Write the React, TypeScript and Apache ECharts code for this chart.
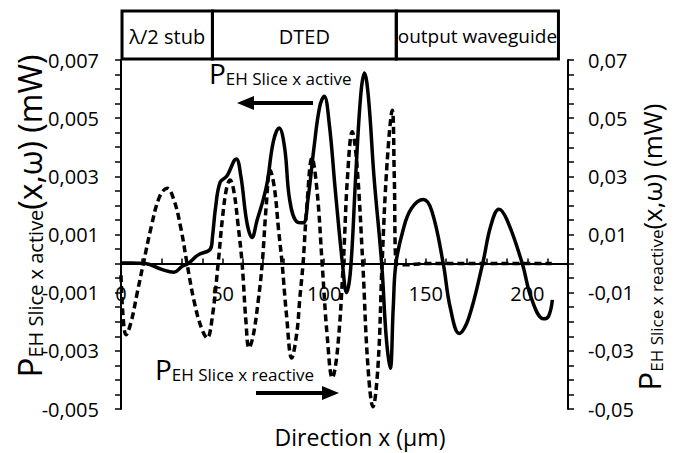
import React, { useEffect, useRef } from 'react';
import * as echarts from 'echarts';

// Direction x (µm) and P_EH Slice x active (mW) — solid curve, left axis
const activeX = [0, 5, 12, 20, 26, 30, 33, 38, 44, 45, 46.5, 48.8, 52, 56.7, 59, 62, 64.5, 67, 70, 72, 75, 77.8, 80.5, 83, 86.5, 89.7, 92, 95, 97.8, 100, 102.5, 105.5, 109, 111, 113, 115.5, 118, 119.8, 121.8, 124.5, 128.3, 130.5, 132.5, 134, 135.3, 139, 143, 148.8, 153, 158.6, 162, 166.5, 171, 178, 182, 186, 190, 197.5, 202, 208, 210.5, 212.3];
const activeY = [0.00002, 0.00002, 0, -0.0002, -0.0003, -0.0001, 0, 0.0003, 0.0005, 0.0009, 0.0019, 0.0028, 0.003, 0.0036, 0.003, 0.0014, 0.0009, 0.0015, 0.0022, 0.0028, 0.0042, 0.00466, 0.004, 0.0022, 0.00144, 0.0014, 0.0022, 0.004, 0.0054, 0.00575, 0.0048, 0.0025, 0, -0.001, -0.0002, 0.003, 0.0058, 0.00655, 0.0057, 0.003, 0, -0.0025, -0.0036, -0.0015, 0, 0.0012, 0.0019, 0.0022, 0.0018, 0, -0.0015, -0.0024, -0.0019, 0, 0.0013, 0.00187, 0.0015, 0, -0.0012, -0.0019, -0.0018, -0.00125];

// P_EH Slice x reactive (mW) — dashed curve, right axis
const reactiveX = [0, 1, 2.5, 5, 8, 11, 15, 19, 22.7, 26, 29.5, 32.5, 36, 39.5, 42.4, 45, 47.8, 50, 52, 53.7, 55.5, 57.5, 59.6, 61.5, 63, 65, 67.5, 69.5, 71.5, 73.4, 75.5, 77.5, 79.3, 81.5, 84, 86.5, 88, 89.6, 91.5, 94, 96.5, 99, 101.5, 104, 106.5, 109.4, 111.5, 113.8, 116, 119, 121.5, 124, 126.5, 128.5, 131, 133.5, 134.5, 135.5, 140, 150, 160, 170, 180, 190, 200, 212];
const reactiveY = [-0.004, -0.018, -0.0245, -0.02, -0.01, 0, 0.013, 0.023, 0.0259, 0.022, 0.012, 0, -0.013, -0.022, -0.0256, -0.018, 0, 0.016, 0.026, 0.0287, 0.025, 0.014, 0, -0.02, -0.029, -0.025, -0.013, 0, 0.02, 0.0321, 0.026, 0.012, 0, -0.018, -0.0325, -0.024, -0.012, 0, 0.02, 0.0363, 0.025, 0, -0.025, -0.0393, -0.03, 0, 0.03, 0.0453, 0.035, 0, -0.035, -0.0492, -0.035, 0, 0.035, 0.0527, 0.03, 0, -0.0004, 0, 0, 0, 0, 0, 0, 0];

const xTickLabels = [0, 50, 100, 150, 200];
const sectionNames = ['λ/2 stub', 'DTED', 'output waveguide'];
const sectionBounds = [0.5, 45, 135.5, 215.3];

const FONT = "'Open Sans', sans-serif";
const Y_MIN = -0.005, Y_MAX = 0.007;
const GRID = { left: 121, top: 60, width: 447, height: 349 };

export default function App() {
  const ref = useRef<HTMLDivElement>(null);
  useEffect(() => {
    if (!ref.current) return;
    const chart = echarts.init(ref.current, null, { renderer: 'svg' });
    // move the x axis up to the zero line of the left axis
    const zeroOffset = -GRID.height * (0 - Y_MIN) / (Y_MAX - Y_MIN);
    const option: any = {
      animation: false,
      backgroundColor: '#fff',
      grid: { ...GRID, containLabel: false },
      xAxis: {
        type: 'value', min: 0, max: 220, interval: 10, position: 'bottom', offset: zeroOffset,
        axisLine: { onZero: false, lineStyle: { color: '#000', width: 2 } },
        axisTick: { show: true, inside: true, length: 5, lineStyle: { color: '#000', width: 1.5 } },
        axisLabel: {
          margin: 20, color: '#000', fontFamily: FONT, fontSize: 20, hideOverlap: false,
          formatter: (v: number) => (xTickLabels.includes(Math.round(v)) ? String(Math.round(v)) : ''),
        },
        splitLine: { show: false },
      },
      yAxis: [
        {
          type: 'value', min: Y_MIN, max: Y_MAX, interval: 0.0005, position: 'left',
          axisLine: { show: true, onZero: false, lineStyle: { color: '#000', width: 2 } },
          axisTick: { show: true, inside: false, length: 6, lineStyle: { color: '#000', width: 1.5 } },
          axisLabel: {
            margin: 22, color: '#000', fontFamily: FONT, fontSize: 20,
            formatter: (v: number) => {
              const n = Math.round(v * 10000);
              return (n + 50) % 20 === 0 ? (n / 10000).toFixed(3).replace('.', ',') : '';
            },
          },
          splitLine: { show: false },
        },
        {
          type: 'value', min: -0.05, max: 0.07, interval: 0.005, position: 'right',
          axisLine: { show: true, onZero: false, lineStyle: { color: '#000', width: 2 } },
          axisTick: { show: true, inside: false, length: 6, lineStyle: { color: '#000', width: 1.5 } },
          axisLabel: {
            margin: 20, color: '#000', fontFamily: FONT, fontSize: 20,
            formatter: (v: number) => {
              const n = Math.round(v * 1000);
              return (n + 50) % 20 === 0 ? (n / 1000).toFixed(2).replace('.', ',') : '';
            },
          },
          splitLine: { show: false },
        },
      ],
      series: [
        {
          name: 'reactive', type: 'line', yAxisIndex: 1, smooth: 0.4, showSymbol: false,
          data: reactiveX.map((x, i) => [x, reactiveY[i]]),
          lineStyle: { color: '#000', width: 3.5, type: [7, 4] },
        },
        {
          name: 'active', type: 'line', yAxisIndex: 0, smooth: 0.4, showSymbol: false,
          data: activeX.map((x, i) => [x, activeY[i]]),
          lineStyle: { color: '#000', width: 3.5 },
        },
      ],
    };
    chart.setOption(option);

    const px = sectionBounds.map((b) => chart.convertToPixel({ xAxisIndex: 0 }, b) as number);
    const boxTop = 11, boxBottom = 59;
    const graphics: any[] = [];
    sectionNames.forEach((name, i) => {
      graphics.push({
        type: 'rect', shape: { x: px[i], y: boxTop, width: px[i + 1] - px[i], height: boxBottom - boxTop },
        style: { fill: 'none', stroke: '#000', lineWidth: 3 },
      });
      graphics.push({
        type: 'text', x: (px[i] + px[i + 1]) / 2, y: (boxTop + boxBottom) / 2 + 1,
        style: { text: name, fontFamily: FONT, fontSize: i === 2 ? 19 : 20, fill: '#000', align: 'center', verticalAlign: 'middle' },
      });
    });
    const titleRich = (ps: number, ss: number, ms: number) => ({
      p: { fontFamily: FONT, fontSize: ps, fill: '#000', verticalAlign: 'bottom' },
      s: { fontFamily: FONT, fontSize: ss, fill: '#000', verticalAlign: 'bottom' },
      m: { fontFamily: FONT, fontSize: ms, fill: '#000', verticalAlign: 'bottom' },
    });
    // left axis title
    graphics.push({
      type: 'text', x: 29, y: 216, rotation: Math.PI / 2,
      style: { text: '{p|P}{s|EH Slice x active}{m|(x,ω) (mW)}', rich: titleRich(33, 20, 32), align: 'center', verticalAlign: 'middle' },
    });
    // right axis title
    graphics.push({
      type: 'text', x: 649, y: 247, rotation: Math.PI / 2,
      style: { text: '{p|P}{s|EH Slice x reactive}{m|(x,ω) (mW)}', rich: titleRich(31, 17, 26), align: 'center', verticalAlign: 'middle' },
    });
    // x axis title
    graphics.push({
      type: 'text', x: 360, y: 437,
      style: { text: 'Direction x (µm)', fontFamily: FONT, fontSize: 23, fill: '#000', align: 'center', verticalAlign: 'middle' },
    });
    // annotations
    graphics.push({
      type: 'text', x: 209, y: 87,
      style: { text: '{p|P}{s|EH Slice x active}', rich: titleRich(28, 17, 17), align: 'left', verticalAlign: 'bottom' },
    });
    graphics.push({
      type: 'text', x: 155, y: 383,
      style: { text: '{p|P}{s|EH Slice x reactive}', rich: titleRich(28, 17, 17), align: 'left', verticalAlign: 'bottom' },
    });
    // arrows
    graphics.push({ type: 'line', shape: { x1: 252, y1: 103, x2: 313, y2: 103 }, style: { stroke: '#000', lineWidth: 4 } });
    graphics.push({ type: 'polygon', shape: { points: [[237, 103], [254, 96], [254, 110]] }, style: { fill: '#000' } });
    graphics.push({ type: 'line', shape: { x1: 256, y1: 393, x2: 324, y2: 393 }, style: { stroke: '#000', lineWidth: 4 } });
    graphics.push({ type: 'polygon', shape: { points: [[339, 393], [322, 386], [322, 400]] }, style: { fill: '#000' } });

    chart.setOption({ graphic: graphics });
    return () => chart.dispose();
  }, []);
  return <div ref={ref} style={{ position: 'fixed', left: 0, top: 0, width: 677, height: 453, background: '#fff' }} />;
}
